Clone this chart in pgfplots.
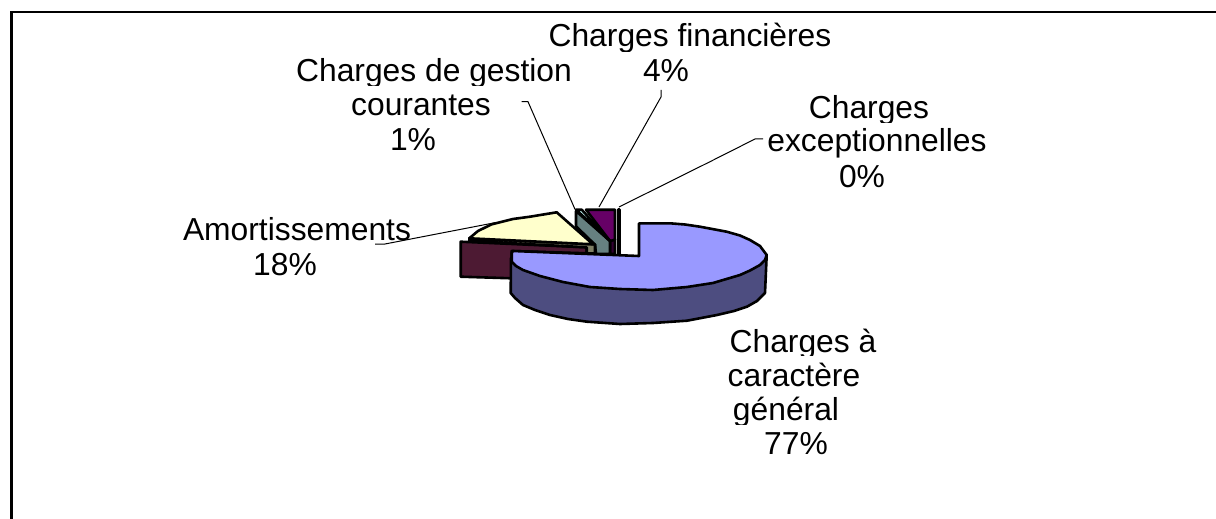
\documentclass[border=0pt]{standalone}
\usepackage{fontspec}
\setmainfont{Liberation Sans}
\usepackage{pgfplots}
\pgfplotsset{compat=1.18}

\definecolor{blueT}{HTML}{9999FF}
\definecolor{blueS}{HTML}{4D4D80}
\definecolor{maroonS}{HTML}{4D1A33}
\definecolor{yellowT}{HTML}{FFFFCC}
\definecolor{yellowS}{HTML}{808066}
\definecolor{cyanT}{HTML}{CCFFFF}
\definecolor{cyanS}{HTML}{668080}
\definecolor{purpleT}{HTML}{660066}
\definecolor{purpleS}{HTML}{330033}

\tikzset{
    lab/.style={anchor=base, inner sep=0pt, font=\fontsize{15.9}{18}\selectfont},
    cut/.style={anchor=north, fill=white, inner sep=0pt, minimum height=2pt},
    pie/.style={draw=black, line width=1.3pt, line join=round},
    lead/.style={draw=black, line width=0.5pt},
}

\begin{document}
\begin{tikzpicture}
\useasboundingbox (0,0) rectangle (608pt,259.5pt);
\begin{axis}[
    scale only axis,
    width=608pt,
    height=259.5pt,
    xmin=0, xmax=1216,
    ymin=0, ymax=519,
    y dir=reverse,
    hide axis,
    clip=true,
]
% frame, only left and top are visible
\addplot[draw=black, line width=1.4pt] coordinates {(11.2,525) (11.2,12) (1225,12)};

% back slices
\addplot[pie, fill=white] coordinates {(618.6,209.7) (619.4,209.7) (619.4,255) (618.6,255)} --cycle;
\addplot[pie, fill=purpleS] coordinates {(610,240) (615,239.7) (615,254) (610,254)} --cycle;
\addplot[pie, fill=purpleT] coordinates {(586,209.7) (615,209.7) (615,239.7) (610,241)} --cycle;
\addplot[pie, fill=cyanS] coordinates {(576,211) (610,241) (610,254) (596,254) (595,244.7) (576,226.3)} --cycle;
\addplot[pie, fill=cyanT] coordinates {(576,209.7) (581.7,209.7) (610,241)} --cycle;

% amortissements
\addplot[pie, fill=maroonS] coordinates {(460.7,241.7) (586.7,247.3) (586.7,253.3) (511.7,251) (511.7,278.3) (460.7,276.7)} --cycle;
\addplot[pie, fill=yellowS] coordinates {(469.3,238.3) (595,244.3) (595,253.3) (586.7,253.3) (586.7,247.3) (469.3,241)} --cycle;
\addplot[pie, fill=yellowT] coordinates {(556.7,212.3) (530,216.7) (513,219) (491.7,224.3) (478,231) (469.3,238.3) (593,244.3)} --cycle;

% charges a caractere general
\addplot[pie, fill=blueS] coordinates {
    (511,258) (510.7,293) (515,298) (523,305) (535,310) (550,315) (568,319) (587,321.7) (620,324) (653,323)
    (687,320.7) (717,315) (734,311) (747,306.7) (757,301) (765,293) (766.7,255)
} --cycle;
\addplot[pie, fill=blueT] coordinates {
    (639,256) (639,223.3) (670,223.3) (685,224.5) (700,226.7) (726.7,231.7) (740,235.5) (750,240) (760,246) (766.7,255)
    (765,260) (760,265) (750,270.5) (740,275) (713,283) (687,287) (653,290) (620,289) (590,287) (563,282)
    (540,276) (523,270) (516,266) (511.7,261.7) (511.7,253) (513,251)
} --cycle;

% leader lines
\addplot[lead] coordinates {(375,244) (385,244) (495,222.7)};
\addplot[lead] coordinates {(521.7,101.7) (528,101.7) (575,209.3)};
\addplot[lead] coordinates {(661,90) (661,97) (599,207)};
\addplot[lead] coordinates {(763,139) (755,139) (710,161.7) (619,207)};

% labels
\node[lab] at (axis cs:690,46.7) {Charges financières};
\node[lab] at (axis cs:666,81.7) {4\%};
\node[lab] at (axis cs:434,81.7) {Charges de gestion};
\node[lab] at (axis cs:421,115.7) {courantes};
\node[lab] at (axis cs:413,150) {1\%};
\node[lab] at (axis cs:297,240) {Amortissements};
\node[lab] at (axis cs:285,275.7) {18\%};
\node[lab] at (axis cs:869,118.3) {Charges};
\node[lab] at (axis cs:877,151.7) {exceptionnelles};
\node[lab] at (axis cs:862,187.3) {0\%};
\node[lab] at (axis cs:803,352) {Charges à};
\node[lab] at (axis cs:794,386.7) {caractère};
\node[lab] at (axis cs:786,420) {général};
\node[lab] at (axis cs:796,454) {77\%};

% descenders are shaved in the reference
\node[cut, minimum width=142pt] at (axis cs:690,51.7) {};
\node[cut, minimum width=140pt] at (axis cs:434,85.5) {};
\node[cut, minimum width=60pt] at (axis cs:869,123) {};
\node[cut, minimum width=74pt] at (axis cs:803,355.5) {};
\node[cut, minimum width=55pt] at (axis cs:786,424.5) {};
\end{axis}
\end{tikzpicture}
\end{document}
